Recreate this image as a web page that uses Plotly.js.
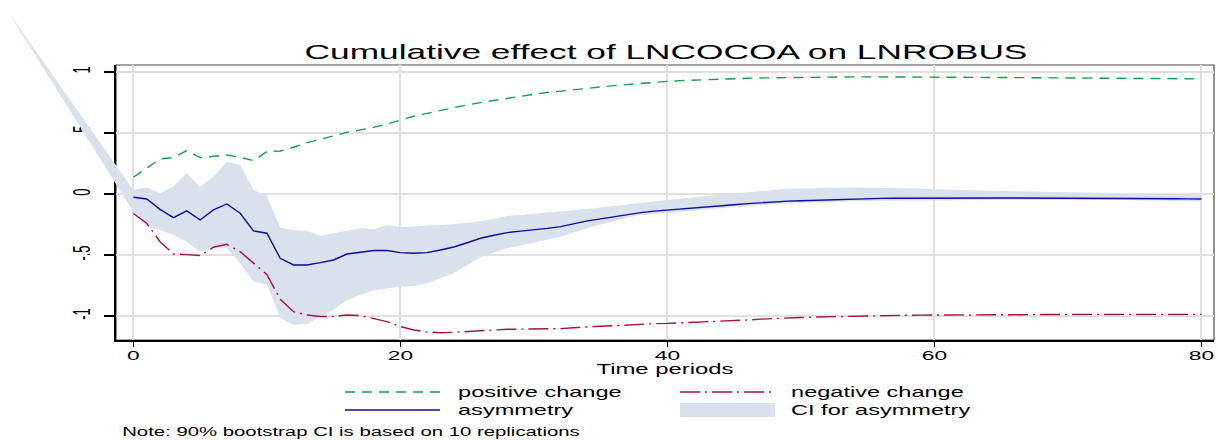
<!DOCTYPE html>
<html><head><meta charset="utf-8">
<script src="https://cdn.plot.ly/plotly-3.0.1.min.js"></script>
<style>html,body{margin:0;padding:0;background:#fff;} #chart{width:1218px;height:440px;}</style>
</head><body><div id="chart"></div>
<script>
// ---------------- data ----------------
const periods = [0,1,2,3,4,5,6,7,8,9,10,11,12,13,14,15,16,17,18,19,20,
  21,22,23,24,25,26,27,28,29,30,31,32,33,34,35,36,37,38,39,40,
  41,42,43,44,45,46,47,48,49,50,51,52,53,54,55,56,57,58,59,60,
  61,62,63,64,65,66,67,68,69,70,71,72,73,74,75,76,77,78,79,80];

const positiveChange = [0.137,0.211,0.287,0.298,0.355,0.298,0.311,0.319,0.300,0.273,0.347,
  0.352,0.383,0.421,0.448,0.475,0.505,0.525,0.546,0.574,0.607,
  0.637,0.661,0.686,0.710,0.730,0.749,0.767,0.784,0.801,0.817,
  0.831,0.844,0.855,0.866,0.877,0.888,0.898,0.907,0.915,0.923,
  0.929,0.934,0.938,0.942,0.945,0.948,0.951,0.953,0.955,0.957,
  0.958,0.959,0.960,0.960,0.960,0.960,0.960,0.960,0.960,0.960,
  0.959,0.958,0.957,0.956,0.955,0.954,0.953,0.952,0.951,0.950,
  0.949,0.948,0.947,0.946,0.946,0.945,0.945,0.944,0.944,0.943];

const negativeChange = [-0.160,-0.240,-0.391,-0.492,-0.497,-0.505,-0.437,-0.413,-0.473,-0.568,-0.660,
  -0.863,-0.965,-0.992,-1.005,-1.003,-0.992,-0.997,-1.019,-1.046,-1.087,
  -1.115,-1.132,-1.137,-1.134,-1.127,-1.120,-1.114,-1.109,-1.108,-1.108,
  -1.106,-1.104,-1.096,-1.088,-1.084,-1.080,-1.073,-1.066,-1.063,-1.061,
  -1.057,-1.053,-1.050,-1.047,-1.040,-1.033,-1.026,-1.020,-1.016,-1.012,
  -1.009,-1.006,-1.004,-1.001,-0.999,-0.997,-0.996,-0.994,-0.993,-0.992,
  -0.991,-0.990,-0.990,-0.989,-0.989,-0.988,-0.988,-0.987,-0.987,-0.987,
  -0.987,-0.987,-0.987,-0.987,-0.987,-0.987,-0.987,-0.987,-0.987,-0.987];

const asymmetry = [-0.027,-0.041,-0.126,-0.194,-0.139,-0.213,-0.131,-0.082,-0.158,-0.303,-0.322,
  -0.527,-0.582,-0.582,-0.563,-0.541,-0.492,-0.475,-0.464,-0.464,-0.481,
  -0.486,-0.481,-0.459,-0.435,-0.400,-0.363,-0.338,-0.317,-0.305,-0.295,
  -0.282,-0.268,-0.244,-0.221,-0.204,-0.186,-0.169,-0.153,-0.141,-0.133,
  -0.122,-0.112,-0.104,-0.096,-0.088,-0.079,-0.071,-0.063,-0.059,-0.056,
  -0.052,-0.049,-0.046,-0.042,-0.039,-0.036,-0.035,-0.034,-0.033,-0.033,
  -0.033,-0.033,-0.033,-0.033,-0.033,-0.033,-0.033,-0.033,-0.033,-0.033,
  -0.033,-0.033,-0.034,-0.034,-0.035,-0.036,-0.037,-0.039,-0.040,-0.041];

// CI band: the first vertex is the stray point drawn outside the frame (top-left)
const ciPeriods = [-9.2,0,1,2,3,4,5,6,7,8,9,10,11,12,13,14,15,16,17,18,19,20,
  21,22,23,24,25,26,27,28,29,30,31,32,33,34,35,36,37,38,39,40,
  41,42,43,44,45,46,47,48,49,50,51,52,53,54,55,56,57,58,59,60,
  61,62,63,64,65,66,67,68,69,70,71,72,73,74,75,76,77,78,79,80];

const ciUpper = [1.467,0.033,0.055,0.005,0.063,0.170,0.060,0.142,0.265,0.238,0.033,-0.015,
  -0.277,-0.295,-0.301,-0.343,-0.322,-0.301,-0.281,-0.290,-0.254,-0.273,
  -0.265,-0.260,-0.255,-0.249,-0.237,-0.224,-0.205,-0.180,-0.172,-0.164,
  -0.155,-0.145,-0.134,-0.123,-0.110,-0.096,-0.084,-0.072,-0.060,-0.049,
  -0.039,-0.030,-0.016,-0.005,0.005,0.016,0.028,0.038,0.042,0.045,
  0.049,0.052,0.052,0.052,0.052,0.052,0.049,0.046,0.042,0.038,
  0.035,0.032,0.030,0.027,0.025,0.023,0.021,0.019,0.018,0.016,
  0.015,0.014,0.012,0.010,0.008,0.005,0.003,0.000,-0.004,-0.008];

const ciLower = [1.460,-0.145,-0.273,-0.295,-0.336,-0.391,-0.473,-0.435,-0.445,-0.568,-0.719,-0.742,
  -1.015,-1.074,-1.066,-1.005,-0.948,-0.872,-0.826,-0.792,-0.773,-0.760,
  -0.755,-0.732,-0.690,-0.650,-0.582,-0.519,-0.480,-0.445,-0.420,-0.399,
  -0.375,-0.350,-0.315,-0.281,-0.250,-0.221,-0.195,-0.172,-0.160,-0.155,
  -0.145,-0.135,-0.125,-0.117,-0.108,-0.099,-0.090,-0.082,-0.077,-0.072,
  -0.067,-0.063,-0.061,-0.059,-0.057,-0.055,-0.053,-0.051,-0.050,-0.049,
  -0.049,-0.049,-0.049,-0.049,-0.049,-0.049,-0.049,-0.049,-0.049,-0.049,
  -0.049,-0.049,-0.050,-0.050,-0.051,-0.052,-0.054,-0.057,-0.060,-0.063];

const xTickVals = [0,20,40,60,80];
const yTickVals = [-1,-0.5,0,0.5,1];
const yTickText = ["-1","-.5","0",".5","1"];
const seriesNames = ["positive change","negative change","asymmetry","CI for asymmetry"];
const noteText = "Note: 90% bootstrap CI is based on 10 replications";
const titleText = "Cumulative effect of LNCOCOA on LNROBUS";
const xTitleText = "Time periods";

// ---------------- layout geometry ----------------
const W = 1218, H = 440;
const box = {l:116, r:1214, t:65, b:340};
const xRange = [-1.30, 80.94], yRange = [-1.197, 1.057];
const kx = (box.r-box.l)/(xRange[1]-xRange[0]);
const ky = (box.b-box.t)/(yRange[1]-yRange[0]);
const x2Range = [xRange[0]-box.l/kx, xRange[1]+(W-box.r)/kx];
const y2Range = [yRange[0]-(H-box.b)/ky, yRange[1]+box.t/ky];
const px = v => v / W, py = v => 1 - v / H;   // pixel -> paper (margins are 0)

const FONT = "Liberation Sans, Arial, Helvetica, sans-serif";
const GREEN = '#14a04a', RED = '#a8104a', BLUE = '#0c0ca0', BAND = 'rgb(217,225,237)';
const DASH_GREEN = '10px,7px', DASH_RED = '20px,5px,2px,5px';

const traces = [
  // empty helper trace so the framed (inner) subplot with grid and ticks is built
  {x:[null], y:[null], xaxis:'x', yaxis:'y', mode:'lines', showlegend:false, hoverinfo:'skip'},
  {x: ciPeriods.concat(ciPeriods.slice().reverse()),
   y: ciUpper.concat(ciLower.slice().reverse()),
   xaxis:'x2', yaxis:'y2', mode:'lines', fill:'toself', fillcolor:BAND,
   line:{width:0, color:BAND}, name:seriesNames[3], showlegend:false},
  {x: periods, y: positiveChange, xaxis:'x2', yaxis:'y2', mode:'lines',
   line:{color:GREEN, width:1.4, dash:DASH_GREEN}, name:seriesNames[0], showlegend:false},
  {x: periods, y: negativeChange, xaxis:'x2', yaxis:'y2', mode:'lines',
   line:{color:RED, width:1.4, dash:DASH_RED}, name:seriesNames[1], showlegend:false},
  {x: periods, y: asymmetry, xaxis:'x2', yaxis:'y2', mode:'lines',
   line:{color:BLUE, width:1.4}, name:seriesNames[2], showlegend:false}
];

// legend drawn as key samples + labels (two columns, two rows)
const legRows = [392, 410], legCols = [345, 680], legSampleW = 95, legTextX = [457, 790];
const legendShapes = [
  {type:'line', xref:'paper', yref:'paper', x0:px(legCols[0]), x1:px(legCols[0]+legSampleW), y0:py(legRows[0]), y1:py(legRows[0]),
   line:{color:GREEN, width:1.4, dash:DASH_GREEN}},
  {type:'line', xref:'paper', yref:'paper', x0:px(legCols[1]), x1:px(legCols[1]+legSampleW), y0:py(legRows[0]), y1:py(legRows[0]),
   line:{color:RED, width:1.4, dash:DASH_RED}},
  {type:'line', xref:'paper', yref:'paper', x0:px(legCols[0]), x1:px(legCols[0]+legSampleW), y0:py(legRows[1]), y1:py(legRows[1]),
   line:{color:BLUE, width:1.4}},
  {type:'rect', xref:'paper', yref:'paper', x0:px(legCols[1]), x1:px(legCols[1]+legSampleW), y0:py(legRows[1]-7), y1:py(legRows[1]+7),
   line:{width:0}, fillcolor:BAND}
];
const legendLabels = [
  {name: seriesNames[0], x: legTextX[0], y: legRows[0]},
  {name: seriesNames[1], x: legTextX[1], y: legRows[0]},
  {name: seriesNames[2], x: legTextX[0], y: legRows[1]},
  {name: seriesNames[3], x: legTextX[1], y: legRows[1]}
].map(d => ({text: d.name, xref:'paper', yref:'paper', x: px(d.x), y: py(d.y), xanchor:'left', yanchor:'middle',
             showarrow:false, font:{size:14, family:FONT, color:'#000'}, borderpad:0}));

const layout = {
  width: W, height: H,
  margin: {l:0, r:0, t:0, b:0, pad:0},
  paper_bgcolor: '#ffffff', plot_bgcolor: 'rgba(0,0,0,0)',
  font: {family: FONT, color: '#000', size: 13},
  showlegend: false,
  title: {text: titleText, font: {size: 20, family: FONT, color:'#000'},
          x: px(666), xanchor: 'center', xref: 'container', y: py(52), yanchor: 'middle', yref: 'container'},
  xaxis: {domain: [px(box.l), px(box.r)], range: xRange, anchor: 'y', showgrid: true, gridcolor: '#e0e0e0', gridwidth: 2,
          tickvals: xTickVals, ticks: 'outside', ticklen: 5, tickwidth: 1.3, tickcolor: '#000',
          showline: true, linecolor: '#000', linewidth: 1.6, zeroline: false, fixedrange: true,
          tickfont: {size: 13, family: FONT}, automargin: false,
          title: {text: xTitleText, font: {size: 14, family: FONT}, standoff: 0}},
  yaxis: {domain: [1-box.b/H, 1-box.t/H], range: yRange, anchor: 'x', showgrid: true, gridcolor: '#e0e0e0', gridwidth: 1.5,
          tickvals: yTickVals, ticktext: yTickText, ticks: 'outside', ticklen: 10, tickwidth: 1.3, tickcolor: '#000',
          tickangle: -90, showline: true, linecolor: '#000', linewidth: 1.6, zeroline: false, fixedrange: true,
          tickfont: {size: 13, family: FONT}, automargin: false},
  xaxis2: {domain: [0,1], range: x2Range, anchor: 'y2', visible: false, fixedrange: true},
  yaxis2: {domain: [0,1], range: y2Range, anchor: 'x2', visible: false, fixedrange: true},
  shapes: [{type:'rect', xref:'x domain', yref:'y domain', x0:0, x1:1, y0:0, y1:1,
            line:{color:'#4a4a4a', width:1.2}, layer:'below'}].concat(legendShapes),
  annotations: [{text: noteText, xref:'paper', yref:'paper',
                 x: px(121), xanchor:'left', y: py(431.5), yanchor:'middle', showarrow:false, borderpad:0,
                 font:{size:12, family:FONT, color:'#000'}}].concat(legendLabels)
};

// The reference picture is stretched horizontally; widen the texts to match.
function stretchGroup(els, S, target, anchor, dx, dy) {
  if (!els.length) return;
  if (!S) { const w = els[0].getBoundingClientRect().width; S = w > 0 ? target / w : 1; }
  els.forEach(el => {
    const r = el.getBoundingClientRect();
    const ctm = el.parentNode.getScreenCTM();
    const sx = anchor === 'left' ? r.left : (r.left + r.right) / 2;
    const ax = (sx - ctm.e) / ctm.a;
    const old = el.getAttribute('transform') || '';
    el.setAttribute('transform', `translate(${ax*(1-S) + (dx||0)},${dy||0}) scale(${S},1) ${old}`);
  });
}
function stretchTexts() {
  const q = s => Array.from(document.querySelectorAll(s));
  stretchGroup(q('text.gtitle'), null, 723, 'center');
  stretchGroup(q('text.xtitle'), null, 137, 'center', 0, -4);
  stretchGroup(q('.xtick text'), 1.75, 0, 'center', 0, -2);
  stretchGroup(q('.ytick text'), 1.8, 0, 'center', -13, 0);
  stretchGroup(q('.annotation[data-index="0"] text.annotation-text'), null, 458, 'left');
  const legEls = [1,2,3,4].map(i => q(`.annotation[data-index="${i}"] text.annotation-text`)[0]).filter(Boolean);
  stretchGroup(legEls, null, 164, 'left');
}

Plotly.newPlot('chart', traces, layout, {staticPlot: true, displayModeBar: false, responsive: false})
  .then(stretchTexts);
</script>
</body></html>
